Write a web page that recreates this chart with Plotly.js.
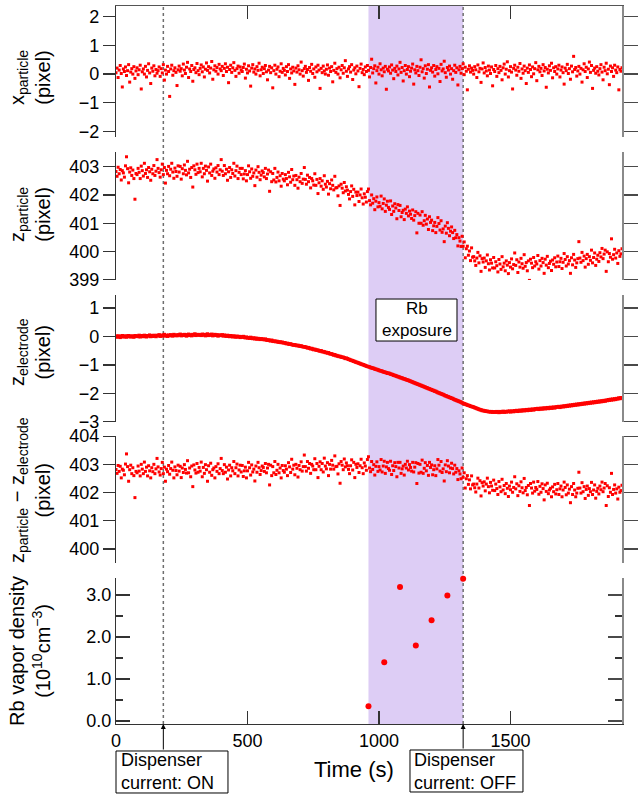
<!DOCTYPE html>
<html>
<head>
<meta charset="utf-8">
<script src="https://cdn.plot.ly/plotly-3.0.1.min.js"></script>
<style>
  html, body { margin: 0; padding: 0; background: #fff; }
  #chart { width: 642px; height: 799px; }
</style>
</head>
<body>
<div id="chart"></div>
<script>
// Frames were recorded every 4 s.
const SAMPLE_STEP = 4;

// Horizontal particle position (pixel), one value per frame.
const xParticle = [
  0.05,0.21,-0.12,0.14,0.30,0.02,-0.45,0.18,0.09,0.25,-0.05,0.12,0.33,-0.28,0.07,0.19,0.00,0.26,-0.15,0.11,
  0.22,-0.02,0.15,0.31,-0.52,0.08,0.18,0.00,0.27,-0.10,0.13,0.36,0.04,-0.33,0.21,0.10,0.29,-0.06,0.16,0.03,
  0.12,0.25,-0.08,0.19,0.04,0.33,-0.21,0.14,0.00,0.27,0.09,-0.78,0.18,0.31,-0.04,0.12,0.22,0.06,-0.40,0.15,
  0.28,0.10,0.19,-0.06,0.35,0.14,0.02,0.24,0.41,-0.12,0.18,0.09,0.30,-0.25,0.16,0.22,0.05,0.37,0.12,-0.02,
  0.20,0.32,0.08,0.25,-0.10,0.17,0.39,0.13,0.26,0.04,0.21,0.44,-0.18,0.15,0.29,0.10,0.23,0.00,0.34,0.18,
  0.12,0.27,-0.05,0.20,0.36,0.09,0.24,-0.30,0.16,0.31,0.06,0.22,0.40,0.13,-0.08,0.19,0.28,0.03,0.25,0.14,
  0.09,0.23,0.35,-0.14,0.17,0.04,0.29,0.11,-0.42,0.21,0.33,0.07,0.18,0.00,0.26,0.13,0.38,-0.06,0.15,0.24,
  0.02,0.19,0.30,0.08,-0.20,0.14,0.27,0.05,0.22,-0.48,0.12,0.31,0.00,0.17,0.25,-0.09,0.10,0.36,0.06,0.20,
  0.13,-0.03,0.26,0.09,0.33,-0.15,0.18,0.04,0.24,0.11,-0.36,0.21,0.07,0.29,0.15,0.00,0.42,0.12,-0.07,0.19,
  0.27,0.06,0.16,-0.22,0.23,0.10,0.34,0.02,0.18,-0.11,0.25,0.08,0.31,0.14,-0.50,0.20,0.05,0.28,0.11,0.00,
  0.17,0.32,-0.04,0.21,0.09,0.26,-0.27,0.13,0.38,0.06,0.19,0.00,0.24,-0.13,0.15,0.30,0.03,0.22,0.47,0.10,
  -0.08,0.18,0.26,0.07,0.33,-0.19,0.14,0.22,0.01,0.28,0.11,-0.44,0.20,0.35,0.05,0.16,-0.02,0.25,0.09,0.30,
  0.13,-0.10,0.23,0.52,0.04,0.19,0.29,-0.31,0.12,0.24,0.00,0.36,0.15,-0.06,0.21,0.08,0.27,-0.53,0.17,0.11,
  0.25,0.03,0.32,0.14,-0.16,0.20,0.09,0.28,-0.03,0.18,0.41,0.06,0.23,-0.24,0.12,0.30,0.00,0.16,0.26,-0.09,
  0.10,0.21,0.35,-0.35,0.15,0.04,0.27,0.12,-0.05,0.24,0.50,0.08,0.19,-0.14,0.29,0.02,0.17,0.33,-0.45,0.13,
  0.22,0.07,0.30,-0.07,0.16,0.26,0.01,0.20,-0.26,0.34,0.11,0.18,0.45,0.05,-0.11,0.23,0.14,0.28,0.00,0.19,
  -0.18,0.12,0.31,0.06,0.22,-0.38,0.15,0.27,0.03,0.19,0.36,-0.02,0.24,0.10,-0.55,0.17,0.29,0.07,0.21,0.13,
  0.00,0.26,0.15,-0.12,0.32,0.08,0.20,-0.29,0.18,0.39,0.04,0.23,0.11,-0.06,0.28,0.14,0.02,0.25,-0.41,0.16,
  0.09,0.30,-0.08,0.19,0.05,0.27,0.13,-0.20,0.22,0.35,0.00,0.17,0.43,-0.10,0.12,0.26,0.07,-0.52,0.20,0.31,
  0.14,-0.04,0.24,0.10,0.37,-0.15,0.18,0.03,0.28,0.12,-0.33,0.21,0.06,0.32,0.16,-0.09,0.25,0.01,0.19,0.40,
  -0.23,0.15,0.27,0.08,0.20,-0.05,0.33,0.11,0.23,-0.46,0.17,0.04,0.29,0.13,0.38,-0.13,0.22,0.09,0.26,0.00,
  0.18,0.31,-0.10,0.14,0.25,0.05,-0.35,0.21,0.12,0.34,0.02,0.19,-0.18,0.28,0.08,0.62,0.16,0.23,-0.07,0.11,
  0.27,0.00,0.20,-0.28,0.15,0.36,0.09,0.24,-0.12,0.18,0.42,0.06,0.30,-0.50,0.13,0.21,0.03,0.26,0.10,-0.03,
  0.19,0.33,0.07,-0.20,0.24,0.12,0.38,0.01,0.17,-0.37,0.28,0.09,0.22,-0.08,0.31,0.14,0.05,0.25,-0.55,0.16,
  0.10,0.22
];

// Vertical particle position (pixel).
const zParticle = [
  402.83,402.66,402.98,402.75,402.90,402.53,402.86,402.78,402.63,403.03,403.35,402.93,402.43,402.81,402.96,402.69,402.88,402.58,401.85,402.76,
  402.72,402.94,402.80,402.58,403.02,402.86,402.67,403.12,402.76,402.89,402.62,402.97,402.82,402.52,402.91,402.75,403.04,402.69,402.84,403.25,
  402.94,402.79,402.63,402.89,403.09,402.72,402.97,402.42,402.87,402.75,403.01,402.68,402.91,403.12,402.81,402.59,402.95,402.83,402.66,403.03,
  402.81,403.01,402.56,402.93,402.75,403.06,402.87,402.71,403.19,402.78,402.91,402.62,402.97,402.28,403.03,402.89,402.73,403.09,402.79,402.94,
  402.82,403.12,402.64,402.94,402.75,403.02,402.87,402.49,402.99,402.78,403.09,402.69,402.84,402.92,402.59,402.96,402.81,403.04,402.72,402.89,
  403.25,402.84,402.69,403.04,402.75,402.91,402.52,402.82,402.97,402.62,402.89,402.76,403.12,402.67,402.86,403.02,402.58,402.80,402.94,402.72,
  402.94,402.57,402.74,402.86,402.50,402.72,403.03,402.82,402.59,402.92,402.66,402.78,402.33,402.88,402.63,403.00,402.80,402.54,402.70,402.85,
  402.79,402.64,402.94,402.58,402.74,402.88,402.13,402.82,402.47,402.76,402.53,402.94,402.46,402.62,402.81,402.50,402.68,402.31,402.76,402.56,
  402.50,402.72,402.58,402.36,402.80,402.64,402.45,402.90,402.54,402.67,402.34,402.69,402.54,402.24,402.63,402.47,402.76,402.41,402.56,402.97,
  402.55,402.38,402.70,402.47,402.62,402.25,402.58,402.50,402.35,402.75,402.34,402.55,402.05,402.43,402.58,402.31,402.50,402.20,402.68,402.38,
  402.28,402.48,402.03,402.40,402.22,402.53,402.34,402.18,402.66,402.25,402.26,401.97,402.32,401.63,402.38,402.24,402.08,402.44,402.14,402.29,
  402.17,402.02,401.86,402.12,402.32,401.95,402.20,401.65,402.10,401.98,402.10,401.77,402.00,402.21,401.90,401.68,402.04,401.92,401.75,402.12,
  402.21,401.80,401.65,402.00,401.71,401.87,401.48,401.78,401.93,401.58,401.73,401.60,401.96,401.51,401.70,401.86,401.42,401.64,401.78,401.56,
  401.49,401.79,401.31,401.61,401.42,401.69,401.54,401.16,401.66,401.45,401.63,401.23,401.38,401.46,401.13,401.50,401.35,401.58,401.26,401.43,
  401.32,401.17,401.47,401.11,401.27,401.41,400.66,401.35,401.00,401.29,401.00,401.41,400.93,401.09,401.28,400.97,401.15,400.78,401.23,401.03,
  401.11,400.74,400.91,401.03,400.67,400.89,401.20,400.99,400.76,401.09,400.68,400.80,400.35,400.90,400.65,401.02,400.82,400.56,400.72,400.87,
  400.67,400.46,400.75,400.49,400.60,400.20,400.49,400.37,400.18,400.54,400.19,400.34,399.78,400.10,400.19,399.87,400.02,399.68,400.13,399.80,
  399.82,399.67,399.51,399.77,399.97,399.60,399.85,399.30,399.75,399.63,399.77,399.44,399.67,399.88,399.57,399.35,399.71,399.59,399.42,399.79,
  399.42,399.64,399.50,399.28,399.72,399.56,399.37,399.82,399.46,399.59,399.32,399.67,399.52,399.22,399.61,399.45,399.74,399.39,399.54,399.95,
  399.51,399.71,399.26,399.63,399.45,399.76,399.57,399.41,399.89,399.48,399.61,399.32,399.67,398.98,399.73,399.59,399.43,399.79,399.49,399.64,
  399.56,399.86,399.38,399.68,399.49,399.76,399.61,399.23,399.73,399.52,399.83,399.43,399.58,399.66,399.33,399.70,399.55,399.78,399.46,399.63,
  399.84,399.47,399.64,399.76,399.40,399.62,399.93,399.72,399.49,399.82,399.56,399.68,399.23,399.78,399.53,399.90,399.70,399.44,399.60,399.75,
  400.35,399.77,399.62,399.97,399.68,399.84,399.45,399.75,399.90,399.55,399.82,399.69,400.05,399.60,399.79,399.95,399.51,399.73,399.87,399.65,
  399.96,399.81,400.11,399.75,399.91,400.05,399.30,399.99,399.64,399.93,399.80,400.45,399.73,399.89,400.08,399.77,399.95,399.58,400.03,399.83,
  399.92,400.10
];

// Electrode position (pixel).
const zElectrode = [
  0.01,-0.02,0.02,0.00,-0.03,0.01,0.03,-0.01,0.00,0.02,-0.02,0.01,0.03,0.00,-0.01,0.02,0.00,-0.02,0.03,0.01,
  0.02,0.00,0.04,-0.01,0.02,0.03,0.00,0.04,0.01,-0.01,0.03,0.02,0.05,0.00,0.03,0.01,0.04,0.02,0.00,0.04,
  0.03,0.06,0.01,0.04,0.02,0.05,0.07,0.02,0.04,0.01,0.05,0.03,0.06,0.04,0.02,0.07,0.04,0.05,0.03,0.06,
  0.05,0.08,0.03,0.06,0.04,0.07,0.05,0.02,0.06,0.08,0.04,0.06,0.03,0.07,0.05,0.09,0.04,0.06,0.07,0.05,
  0.06,0.04,0.08,0.05,0.07,0.03,0.06,0.09,0.04,0.06,0.05,0.08,0.03,0.05,0.07,0.04,0.06,0.02,0.05,0.04,
  0.04,0.06,0.02,0.05,0.03,0.01,0.04,0.02,0.00,0.03,0.01,-0.01,0.02,0.00,-0.02,0.01,-0.01,0.00,-0.03,-0.01,
  -0.02,0.00,-0.03,-0.04,-0.02,-0.05,-0.04,-0.06,-0.03,-0.06,-0.07,-0.05,-0.08,-0.06,-0.09,-0.07,-0.08,-0.10,-0.08,-0.09,
  -0.10,-0.11,-0.09,-0.12,-0.13,-0.12,-0.14,-0.15,-0.13,-0.16,-0.17,-0.16,-0.18,-0.17,-0.19,-0.20,-0.19,-0.21,-0.20,-0.22,
  -0.22,-0.23,-0.25,-0.24,-0.26,-0.27,-0.26,-0.28,-0.29,-0.30,-0.29,-0.31,-0.32,-0.31,-0.33,-0.34,-0.33,-0.35,-0.36,-0.36,
  -0.37,-0.38,-0.40,-0.39,-0.41,-0.43,-0.42,-0.44,-0.46,-0.45,-0.47,-0.48,-0.48,-0.50,-0.51,-0.50,-0.53,-0.53,-0.54,-0.56,
  -0.56,-0.58,-0.57,-0.60,-0.61,-0.61,-0.63,-0.65,-0.64,-0.67,-0.67,-0.69,-0.70,-0.70,-0.72,-0.73,-0.73,-0.75,-0.77,-0.76,
  -0.78,-0.80,-0.81,-0.83,-0.84,-0.85,-0.87,-0.88,-0.90,-0.91,-0.92,-0.94,-0.95,-0.97,-0.98,-0.99,-1.01,-1.02,-1.04,-1.05,
  -1.06,-1.07,-1.09,-1.10,-1.11,-1.12,-1.14,-1.15,-1.16,-1.17,-1.19,-1.20,-1.21,-1.22,-1.24,-1.25,-1.26,-1.27,-1.29,-1.29,
  -1.30,-1.32,-1.33,-1.34,-1.36,-1.37,-1.38,-1.40,-1.41,-1.42,-1.44,-1.45,-1.46,-1.48,-1.49,-1.50,-1.52,-1.53,-1.54,-1.56,
  -1.57,-1.59,-1.60,-1.62,-1.63,-1.65,-1.66,-1.68,-1.69,-1.71,-1.72,-1.74,-1.75,-1.77,-1.78,-1.80,-1.81,-1.83,-1.84,-1.86,
  -1.87,-1.89,-1.90,-1.92,-1.93,-1.95,-1.97,-1.98,-2.00,-2.01,-2.03,-2.04,-2.06,-2.08,-2.09,-2.11,-2.12,-2.14,-2.15,-2.17,
  -2.18,-2.20,-2.22,-2.23,-2.25,-2.26,-2.28,-2.29,-2.31,-2.33,-2.35,-2.36,-2.38,-2.39,-2.41,-2.42,-2.43,-2.45,-2.46,-2.47,
  -2.48,-2.50,-2.51,-2.53,-2.54,-2.56,-2.57,-2.58,-2.60,-2.60,-2.61,-2.62,-2.63,-2.63,-2.64,-2.64,-2.65,-2.64,-2.66,-2.65,
  -2.65,-2.66,-2.64,-2.65,-2.67,-2.64,-2.66,-2.65,-2.63,-2.66,-2.64,-2.65,-2.63,-2.64,-2.62,-2.65,-2.63,-2.62,-2.64,-2.61,
  -2.62,-2.60,-2.63,-2.61,-2.59,-2.62,-2.60,-2.58,-2.61,-2.59,-2.57,-2.60,-2.58,-2.56,-2.59,-2.57,-2.55,-2.58,-2.56,-2.54,
  -2.55,-2.53,-2.56,-2.54,-2.52,-2.55,-2.53,-2.51,-2.54,-2.52,-2.50,-2.53,-2.51,-2.49,-2.52,-2.50,-2.48,-2.51,-2.49,-2.47,
  -2.48,-2.46,-2.49,-2.47,-2.45,-2.47,-2.44,-2.46,-2.43,-2.45,-2.42,-2.44,-2.41,-2.43,-2.40,-2.42,-2.39,-2.41,-2.38,-2.40,
  -2.37,-2.39,-2.36,-2.38,-2.35,-2.37,-2.34,-2.36,-2.33,-2.35,-2.32,-2.34,-2.31,-2.33,-2.30,-2.32,-2.29,-2.31,-2.28,-2.30,
  -2.27,-2.29,-2.26,-2.28,-2.25,-2.27,-2.24,-2.25,-2.22,-2.24,-2.21,-2.23,-2.20,-2.22,-2.19,-2.21,-2.18,-2.19,-2.16,-2.18,
  -2.15,-2.16
];

// Rb vapour density measurements (10^10 cm^-3).
const rbTime = [960, 1020, 1080, 1140, 1200, 1260, 1320];
const rbDensity = [0.35, 1.40, 3.19, 1.80, 2.40, 2.99, 3.39];

// Dispenser events and exposure window (s).
const dispenserOnTime = 180;
const dispenserOffTime = 1320;
const exposureWindow = [960, 1320];
const timeTicks = [0, 500, 1000, 1500];

const time = zParticle.map((_, i) => i * SAMPLE_STEP);
const zDifference = zParticle.map((z, i) => z - zElectrode[i]);

const FONT = 'Liberation Sans, Arial, Helvetica, sans-serif';
const RED = '#ff0000';
const AXIS = '#333333';
const RIGHT_AXIS = '#8a8a8a';
const TIME_RANGE = [0, 1924];

// Panel geometry: [domain, range] for each stacked panel.
const panels = [
  { domain: [0.8175, 1], range: [-2.2, 2.38] },
  { domain: [0.6184, 0.7967], range: [398.995, 403.52] },
  { domain: [0.4206, 0.5975], range: [-3.005, 1.46] },
  { domain: [0.2242, 0.4011], range: [399.5, 404.005] },
  { domain: [0, 0.2033], range: [-0.071, 3.405] }
];

const dots = (size) => ({ color: RED, size: size, symbol: 'square', line: { width: 0 } });
const empty = (xa, ya) => ({ type: 'scatter', mode: 'markers', x: [], y: [], xaxis: xa, yaxis: ya, hoverinfo: 'skip' });

const traces = [
  { type: 'scatter', mode: 'markers', x: time, y: xParticle, xaxis: 'x', yaxis: 'y', marker: dots(3), hoverinfo: 'skip' },
  { type: 'scatter', mode: 'markers', x: time, y: zParticle, xaxis: 'x', yaxis: 'y2', marker: dots(3), hoverinfo: 'skip' },
  { type: 'scatter', mode: 'markers', x: time, y: zElectrode, xaxis: 'x', yaxis: 'y3', marker: dots(3.4), hoverinfo: 'skip' },
  { type: 'scatter', mode: 'markers', x: time, y: zDifference, xaxis: 'x', yaxis: 'y4', marker: dots(3), hoverinfo: 'skip' },
  { type: 'scatter', mode: 'markers', x: rbTime, y: rbDensity, xaxis: 'x', yaxis: 'y5',
    marker: { color: RED, size: 6, symbol: 'circle', line: { width: 0 } }, cliponaxis: false, hoverinfo: 'skip' },
  // carriers for the top frame and right-hand axes
  empty('x2', 'y'),
  empty('x', 'y6'), empty('x', 'y7'), empty('x', 'y8'), empty('x', 'y9'), empty('x', 'y10')
];

function leftAxis(p, extra) {
  return Object.assign({
    domain: p.domain, range: p.range, autorange: false, anchor: 'x',
    showline: true, linecolor: AXIS, linewidth: 1.2,
    ticks: 'outside', ticklen: 12, tickwidth: 1.2, tickcolor: AXIS,
    tick0: 0, dtick: 1,
    showgrid: false, zeroline: false,
    tickfont: { family: FONT, size: 18, color: '#000' }
  }, extra || {});
}

function rightAxis(overlay, p, extra) {
  return Object.assign({
    overlaying: overlay, side: 'right', anchor: 'x', range: p.range, autorange: false,
    showline: true, linecolor: RIGHT_AXIS, linewidth: 2,
    ticks: 'outside', ticklen: 14, tickwidth: 1.2, tickcolor: '#4a4a4a',
    tick0: 0, dtick: 1, showticklabels: false,
    showgrid: false, zeroline: false
  }, extra || {});
}

const densityTicks = {
  ticks: 'inside', ticklen: 14,
  minor: { dtick: 0.5, ticks: 'inside', ticklen: 7, tickwidth: 1.2, tickcolor: AXIS }
};

const yTitle = (text, y) => ({
  xref: 'paper', yref: 'paper', x: -0.17, y: y, xanchor: 'center', yanchor: 'middle',
  text: text, textangle: -90, showarrow: false, align: 'center',
  font: { family: FONT, size: 20, color: '#000' }
});

const boxText = (text, x, y, xanchor, align, size) => ({
  xref: 'paper', yref: 'paper', x: x, y: y, xanchor: xanchor, yanchor: 'middle',
  text: text, align: align, showarrow: false, font: { family: FONT, size: size, color: '#000' }
});

const eventArrow = (t, len) => ({
  xref: 'x', yref: 'paper', x: t, y: 0, ax: 0, ay: len, text: '',
  showarrow: true, arrowhead: 2, arrowsize: 1, arrowwidth: 1, arrowcolor: '#000', standoff: 0
});

const labelBox = (x0, x1, y0, y1) => ({
  type: 'rect', xref: 'paper', yref: 'paper', x0: x0, x1: x1, y0: y0, y1: y1,
  fillcolor: '#ffffff', line: { color: '#000', width: 1 }, layer: 'above'
});

const eventLine = (t) => ({
  type: 'line', xref: 'x', yref: 'paper', x0: t, x1: t, y0: 0, y1: 1,
  line: { color: '#6e6e6e', width: 1.5, dash: '3px,3px' }, layer: 'below'
});

const layout = {
  width: 642, height: 799,
  margin: { l: 116, r: 20, t: 6, b: 75, pad: 0 },
  paper_bgcolor: '#ffffff', plot_bgcolor: 'rgba(0,0,0,0)',
  showlegend: false,
  font: { family: FONT, size: 18, color: '#000' },
  xaxis: {
    domain: [0, 1], range: TIME_RANGE, autorange: false, anchor: 'y5',
    showline: true, linecolor: AXIS, linewidth: 1.2,
    ticks: 'inside', ticklen: 13, tickwidth: 1.2, tickcolor: AXIS,
    tickvals: timeTicks, showgrid: false, zeroline: false,
    tickfont: { family: FONT, size: 18, color: '#000' }
  },
  xaxis2: {
    overlaying: 'x', anchor: 'y', side: 'top', range: TIME_RANGE, autorange: false,
    showline: true, linecolor: '#555555', linewidth: 1.5,
    ticks: 'inside', ticklen: 13, tickwidth: 1.2, tickcolor: AXIS,
    tickvals: timeTicks, showticklabels: false, showgrid: false, zeroline: false
  },
  yaxis: leftAxis(panels[0]),
  yaxis2: leftAxis(panels[1]),
  yaxis3: leftAxis(panels[2]),
  yaxis4: leftAxis(panels[3]),
  yaxis5: leftAxis(panels[4], Object.assign({ tickformat: '.1f' }, densityTicks)),
  yaxis6: rightAxis('y', panels[0]),
  yaxis7: rightAxis('y2', panels[1]),
  yaxis8: rightAxis('y3', panels[2]),
  yaxis9: rightAxis('y4', panels[3]),
  yaxis10: rightAxis('y5', panels[4], densityTicks),
  shapes: [
    { type: 'rect', xref: 'x', yref: 'paper', x0: exposureWindow[0], x1: exposureWindow[1], y0: 0, y1: 1,
      fillcolor: 'rgb(221,205,245)', line: { width: 0 }, layer: 'below' },
    eventLine(dispenserOnTime),
    eventLine(dispenserOffTime),
    labelBox(0.5138, 0.6739, 0.5334, 0.5919),
    labelBox(0.0, 0.2213, -0.0961, -0.0376),
    labelBox(0.581, 0.8043, -0.0947, -0.0362)
  ],
  annotations: [
    yTitle('x<sub>particle</sub><br>(pixel)', 0.901),
    yTitle('z<sub>particle</sub><br>(pixel)', 0.7103),
    yTitle('z<sub>electrode</sub><br>(pixel)', 0.5181),
    yTitle('z<sub>particle</sub> − z<sub>electrode</sub><br>(pixel)', 0.3259),
    yTitle('Rb vapor density<br>(10<sup>10</sup>cm<sup>−3</sup>)', 0.1017),
    { xref: 'paper', yref: 'paper', x: 0.47, y: -0.064, xanchor: 'center', yanchor: 'middle',
      text: 'Time (s)', showarrow: false, font: { family: FONT, size: 22, color: '#000' } },
    boxText('Rb<br>exposure', 0.5939, 0.5627, 'center', 'center', 17),
    boxText('Dispenser<br>current: ON', 0.0059, -0.0668, 'left', 'left', 18),
    boxText('Dispenser<br>current: OFF', 0.585, -0.0655, 'left', 'left', 18),
    eventArrow(dispenserOnTime, 27),
    eventArrow(dispenserOffTime, 26)
  ]
};

Plotly.newPlot('chart', traces, layout, { staticPlot: true, displayModeBar: false });
</script>
</body>
</html>
